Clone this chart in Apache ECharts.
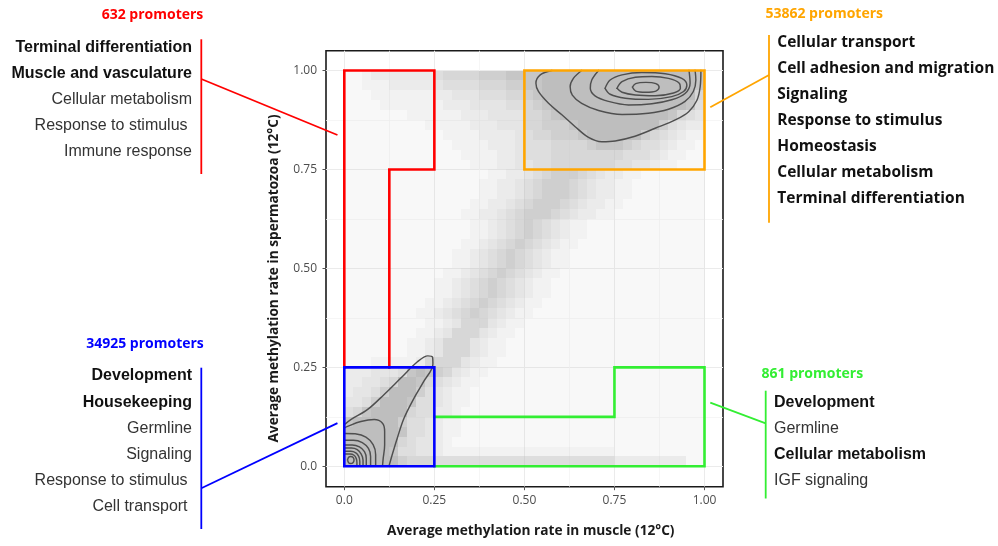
<!DOCTYPE html>
<html><head><meta charset="utf-8">
<script src="https://cdn.jsdelivr.net/npm/echarts@6/dist/echarts.min.js"></script>
<style>html,body{margin:0;padding:0;background:#fff}#c{width:998px;height:546px}</style>
</head><body><div id="c"></div>
<script>
// ---------------- data ----------------
const tickValues = [0, 0.25, 0.5, 0.75, 1];
const tickLabels = ['0.0', '0.25', '0.50', '0.75', '1.00'];
const xTitle = 'Average methylation rate in muscle (12°C)';
const yTitle = 'Average methylation rate in spermatozoa (12°C)';

// point density read from the scatter cloud, 0 (empty) .. 9 (solid)
// 40 bins of 0.025 per row (x 0 -> 1); first row is y 0.975-1.0, last row y 0-0.025
const binSize = 0.025;
const densityRows = [
  "1123333333 5666677788 8899999999 9999999998",
  "1122233333 4555566677 8899999999 9999999998",
  "1112222222 3344455566 7899999999 9999999996",
  "1111222222 2333444455 6789999999 9999999985",
  "1111111222 2223334444 6678999999 9999998654",
  "1111111112 2222333444 6677789999 9999975433",
  "1111111111 1222233334 5667778999 9997654322",
  "1111111111 1122223334 5556666788 8765543221",
  "1111111111 1112222334 5556666666 6555432211",
  "1111111111 1111222334 4556666666 5544322111",
  "1111111111 1111112233 4567776543 3221111111",
  "1111111111 1111122334 5677765433 2211111111",
  "1111111111 1111122334 5677765433 2211111111",
  "1111111111 1111223345 6777654332 2111111111",
  "1111111111 1112233456 7776543322 1111111111",
  "1111111111 1111223456 7654322111 1111111111",
  "1111111111 1111223456 7654322111 1111111111",
  "1111111111 1112234567 6543221111 1111111111",
  "1111111111 1122345676 5432211111 1111111111",
  "1111111111 1122345676 5432211111 1111111111",
  "1111111111 1223456765 4322111111 1111111111",
  "1111111111 2234567654 3221111111 1111111111",
  "1111111111 2234567654 3221111111 1111111111",
  "1111111112 2345676543 2211111111 1111111111",
  "1111111122 3456765432 2111111111 1111111111",
  "1111111112 2346664322 1111111111 1111111111",
  "1111111122 3466643221 1111111111 1111111111",
  "1111111223 4666432211 1111111111 1111111111",
  "1111111223 4666432211 1111111111 1111111111",
  "1112222236 6664322111 1111111111 1111111111",
  "3334445898 7643221111 1111111111 1111111111",
  "3344569986 5432211111 1111111111 1111111111",
  "3445799975 4322111111 1111111111 1111111111",
  "4457999855 4322111111 1111111111 1111111111",
  "5689999655 3321111111 1111111111 1111111111",
  "8999997554 3221111111 1111111111 1111111111",
  "9999998554 3221111111 1111111111 1111111111",
  "9999996544 3211111111 1111111111 1111111111",
  "9999985544 3222222222 2222222222 1111111111",
  "9999997666 5555555555 5555555555 3333333311"
];

// 2D density contours (x, y)
const contoursHigh = [
  [[0.576,1.0],[0.544,0.989],[0.532,0.968],[0.539,0.947],[0.567,0.917],[0.604,0.888],[0.641,0.858],[0.678,0.831],[0.715,0.82],[0.752,0.822],[0.807,0.834],[0.863,0.854],[0.919,0.875],[0.956,0.896],[0.979,0.925],[0.988,0.959],[0.99,1.0]],
  [[0.659,1.0],[0.636,0.98],[0.627,0.959],[0.633,0.938],[0.659,0.917],[0.706,0.899],[0.771,0.889],[0.844,0.892],[0.9,0.902],[0.946,0.922],[0.969,0.947],[0.976,0.976],[0.974,1.0]],
  [[0.706,1.0],[0.687,0.976],[0.683,0.955],[0.696,0.936],[0.733,0.922],[0.789,0.913],[0.854,0.916],[0.909,0.926],[0.946,0.942],[0.96,0.968],[0.957,1.0]],
  [[0.724,0.955],[0.738,0.976],[0.771,0.989],[0.826,0.995],[0.891,0.992],[0.937,0.98],[0.951,0.963],[0.942,0.947],[0.909,0.934],[0.844,0.927],[0.78,0.93],[0.738,0.94],[0.724,0.955]],
  [[0.757,0.955],[0.771,0.972],[0.808,0.983],[0.854,0.985],[0.9,0.98],[0.93,0.968],[0.933,0.955],[0.914,0.943],[0.863,0.936],[0.808,0.938],[0.771,0.945],[0.757,0.955]],
  [[0.8,0.958],[0.809,0.967],[0.837,0.97],[0.865,0.967],[0.874,0.958],[0.865,0.948],[0.837,0.945],[0.809,0.948],[0.8,0.958]]
];
const contoursLow = [
  [[0.0,0.105],[0.018,0.118],[0.064,0.143],[0.11,0.181],[0.157,0.223],[0.203,0.264],[0.232,0.279],[0.245,0.276],[0.246,0.258],[0.221,0.215],[0.194,0.173],[0.166,0.122],[0.147,0.071],[0.133,0.029],[0.124,0.0]],
  [[0.0,0.097],[0.009,0.101],[0.046,0.113],[0.083,0.118],[0.106,0.109],[0.112,0.088],[0.112,0.054],[0.108,0.02],[0.106,0.0]],
  [[0.003,0.083],[0.03,0.082],[0.06,0.074],[0.08,0.055],[0.087,0.03],[0.087,0.003]],
  [[0.003,0.066],[0.025,0.066],[0.05,0.06],[0.067,0.045],[0.073,0.025],[0.073,0.003]],
  [[0.003,0.054],[0.022,0.054],[0.042,0.049],[0.056,0.037],[0.061,0.02],[0.061,0.003]],
  [[0.003,0.046],[0.02,0.046],[0.036,0.042],[0.047,0.031],[0.052,0.016],[0.052,0.003]],
  [[0.003,0.038],[0.018,0.038],[0.032,0.034],[0.04,0.025],[0.043,0.013],[0.043,0.003]],
  [[0.003,0.031],[0.016,0.031],[0.027,0.028],[0.033,0.02],[0.035,0.01],[0.035,0.003]],
  [[0.009,0.016],[0.012,0.023],[0.018,0.025],[0.024,0.023],[0.027,0.016],[0.024,0.009],[0.018,0.007],[0.012,0.009],[0.009,0.016]]
];

// selected regions
const redRegion = [[0.125,0.25],[0.125,0.75],[0.25,0.75],[0.25,1],[0,1],[0,0.25]];
const blueRegion = [[0,0],[0,0.25],[0.25,0.25],[0.25,0],[0,0]];
const orangeRegion = [[0.5,0.75],[0.5,1],[1,1],[1,0.75],[0.5,0.75]];
const greenRegion = [[0.25,0.125],[0.75,0.125],[0.75,0.25],[1,0.25],[1,0],[0.25,0]];

// annotation texts
const redTitle = '632 promoters';
const redTerms = ['Terminal differentiation','Muscle and vasculature','Cellular metabolism','Response to stimulus ','Immune response'];
const redBold = [1,1,0,0,0];
const blueTitle = '34925 promoters';
const blueTerms = ['Development','Housekeeping','Germline','Signaling','Response to stimulus ','Cell transport '];
const blueBold = [1,1,0,0,0,0];
const orangeTitle = '53862 promoters';
const orangeTerms = ['Cellular transport','Cell adhesion and migration','Signaling','Response to stimulus','Homeostasis','Cellular metabolism','Terminal differentiation'];
const greenTitle = '861 promoters';
const greenTerms = ['Development','Germline','Cellular metabolism','IGF signaling'];
const greenBold = [1,0,1,0];
// anchor points (data units) where the connector lines touch the plot
const redAnchor = [-0.019, 0.837];
const blueAnchor = [-0.019, 0.109];
const orangeAnchor = [1.016, 0.907];
const greenAnchor = [1.016, 0.161];

// ---------------- chart ----------------
const RED = '#ff0000', BLUE = '#0000ff', ORANGE = '#ffa500', GREEN = '#33ee33';
const densityAlpha = [0, 0.1, 0.2, 0.3, 0.4, 0.5, 0.62, 0.74, 0.87, 1.0];

const densityData = [];
densityRows.forEach((row, r) => {
  const s = row.replace(/ /g, '');
  for (let c = 0; c < s.length; c++) {
    const lvl = +s[c];
    if (lvl > 0) densityData.push([c * binSize, 1 - (r + 1) * binSize, lvl]);
  }
});

function tickFmt(v) {
  for (let i = 0; i < tickValues.length; i++) if (Math.abs(v - tickValues[i]) < 1e-6) return tickLabels[i];
  return '';
}
const tickLabelStyle = { color: '#4d4d4d', fontSize: 12, fontFamily: '"Open Sans", sans-serif', formatter: tickFmt };
const tickStyle = { show: true, length: 3.5, lineStyle: { color: '#555', width: 1 } };
const major = { show: true, lineStyle: { color: '#ebebeb', width: 1 } };
const minor = { show: true, lineStyle: { color: '#f4f4f4', width: 0.8 } };

function lineSeries(data, color, width, smooth, z) {
  return { type: 'line', xAxisIndex: 2, yAxisIndex: 2, data: data, symbol: 'none', showSymbol: false,
    smooth: smooth, clip: false, silent: true, animation: false, z: z,
    lineStyle: { color: color, width: width, join: 'miter', cap: 'square' } };
}

const series = [{
  type: 'custom', xAxisIndex: 2, yAxisIndex: 2, data: densityData, silent: true, animation: false, z: 1,
  encode: { x: 0, y: 1 },
  renderItem: function (params, api) {
    const x0 = api.value(0), y0 = api.value(1), lvl = api.value(2);
    const a = api.coord([x0, y0 + binSize]), b = api.coord([x0 + binSize, y0]);
    const L = Math.round(a[0]), T = Math.round(a[1]), R = Math.round(b[0]), B = Math.round(b[1]);
    return { type: 'rect', shape: { x: L, y: T, width: R - L, height: B - T },
      style: { fill: 'rgba(190,190,190,' + densityAlpha[lvl] + ')' } };
  }
}];
contoursHigh.concat(contoursLow).forEach(c => series.push(lineSeries(c, '#4f4f4f', 1.45, 0.35, 4)));
series.push(lineSeries(redRegion, RED, 2.6, false, 6));
series.push(lineSeries(orangeRegion, ORANGE, 2.6, false, 6));
series.push(lineSeries(greenRegion, GREEN, 2.6, false, 6));
series.push(lineSeries(blueRegion, BLUE, 2.6, false, 7));

const chart = echarts.init(document.getElementById('c'));
chart.setOption({
  animation: false,
  backgroundColor: '#ffffff',
  grid: [
    { left: 344.3, right: 293.5, top: 50.7, bottom: 59.3 },
    { left: 326, right: 275, top: 70.5, bottom: 79.7 },
    { left: 344.3, right: 293.5, top: 70.5, bottom: 79.7 },
    { left: 326, right: 275, top: 50.7, bottom: 59.3, show: true, borderColor: '#1a1a1a', borderWidth: 1.6, backgroundColor: 'transparent' }
  ],
  xAxis: [
    { gridIndex: 0, type: 'value', min: 0, max: 1, interval: 0.25, axisLine: { show: false }, axisTick: tickStyle,
      axisLabel: Object.assign({ margin: 8 }, tickLabelStyle), splitLine: major,
      minorTick: { show: false, splitNumber: 2 }, minorSplitLine: minor },
    { gridIndex: 1, type: 'value', min: 0, max: 1, show: false },
    { gridIndex: 2, type: 'value', min: 0, max: 1, show: false },
    { gridIndex: 3, type: 'value', min: 0, max: 1, show: false }
  ],
  yAxis: [
    { gridIndex: 0, type: 'value', min: 0, max: 1, show: false },
    { gridIndex: 1, type: 'value', min: 0, max: 1, interval: 0.25, axisLine: { show: false }, axisTick: tickStyle,
      axisLabel: Object.assign({ margin: 9 }, tickLabelStyle), splitLine: major,
      minorTick: { show: false, splitNumber: 2 }, minorSplitLine: minor },
    { gridIndex: 2, type: 'value', min: 0, max: 1, show: false },
    { gridIndex: 3, type: 'value', min: 0, max: 1, show: false }
  ],
  series: series
});

// ---------------- annotations ----------------
const ARIAL = '"Liberation Sans", Arial, sans-serif';
const OPEN = '"Open Sans", sans-serif';
const g = [];
function txt(x, y, text, opt) {
  g.push({ type: 'text', x: x, y: y, silent: true, rotation: opt.rotation || 0,
    style: { text: text, fill: opt.fill, fontSize: opt.size, fontFamily: opt.family, fontWeight: opt.weight || 'normal',
      align: opt.align || 'left', verticalAlign: 'middle' } });
}
function seg(x1, y1, x2, y2, color, w) {
  g.push({ type: 'line', silent: true, shape: { x1: x1, y1: y1, x2: x2, y2: y2 }, style: { stroke: color, lineWidth: w } });
}
const px = pt => chart.convertToPixel({ gridIndex: 2 }, pt);

// axis titles
txt(530.8, 531, xTitle, { fill: '#1a1a1a', size: 13.7, family: OPEN, weight: 'bold', align: 'center' });
txt(274.5, 278.5, yTitle, { fill: '#1a1a1a', size: 13.7, family: OPEN, weight: 'bold', align: 'center', rotation: Math.PI / 2 });

// red group
txt(152.5, 15, redTitle, { fill: RED, size: 14, family: OPEN, weight: 'bold', align: 'center' });
redTerms.forEach((t, i) => txt(192, 48 + 26 * i, t, { fill: redBold[i] ? '#111' : '#333', size: 16, family: ARIAL, weight: redBold[i] ? 'bold' : 'normal', align: 'right' }));
seg(201.3, 39.3, 201.3, 174, RED, 1.8);
let a = px(redAnchor); seg(201.3, 79, a[0], a[1], RED, 1.8);

// blue group
txt(145, 344, blueTitle, { fill: BLUE, size: 14, family: OPEN, weight: 'bold', align: 'center' });
blueTerms.forEach((t, i) => txt(192, 376 + 26.2 * i, t, { fill: blueBold[i] ? '#111' : '#333', size: 16, family: ARIAL, weight: blueBold[i] ? 'bold' : 'normal', align: 'right' }));
seg(201.3, 367.7, 201.3, 529, BLUE, 1.8);
a = px(blueAnchor); seg(201.3, 488.3, a[0], a[1], BLUE, 1.8);

// orange group
txt(824.2, 14, orangeTitle, { fill: ORANGE, size: 14, family: OPEN, weight: 'bold', align: 'center' });
orangeTerms.forEach((t, i) => txt(777.3, 42.7 + 26.05 * i, t, { fill: '#111', size: 15.5, family: OPEN, weight: 'bold', align: 'left' }));
seg(769, 35, 769, 222.7, ORANGE, 1.8);
a = px(orangeAnchor); seg(769, 75, a[0], a[1], ORANGE, 1.8);

// green group
txt(812.3, 374, greenTitle, { fill: GREEN, size: 14, family: OPEN, weight: 'bold', align: 'center' });
greenTerms.forEach((t, i) => txt(774, 402.7 + 26.1 * i, t, { fill: greenBold[i] ? '#111' : '#333', size: 16, family: ARIAL, weight: greenBold[i] ? 'bold' : 'normal', align: 'left' }));
seg(765.7, 390.7, 765.7, 498.5, GREEN, 1.8);
a = px(greenAnchor); seg(765.7, 423.3, a[0], a[1], GREEN, 1.8);

chart.setOption({ graphic: { elements: g } });
</script>
</body></html>
